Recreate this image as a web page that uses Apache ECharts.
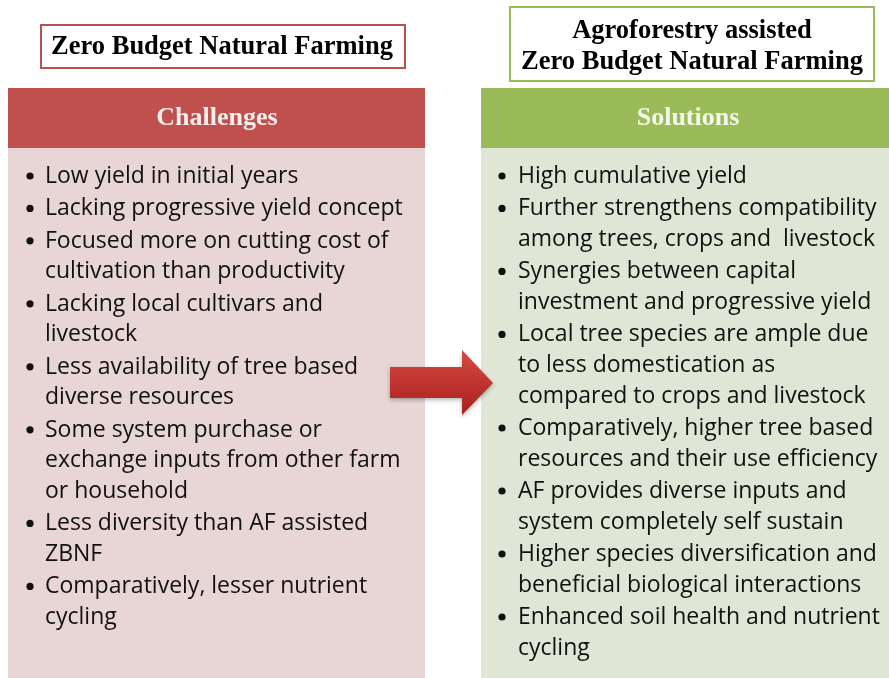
<!DOCTYPE html>
<html>
<head>
<meta charset="utf-8">
<script src="https://cdn.jsdelivr.net/npm/echarts@6/dist/echarts.min.js"></script>
<style>
  html, body { margin: 0; padding: 0; background: #fff; }
  #chart { width: 889px; height: 678px; }
</style>
</head>
<body>
<div id="chart"></div>
<script>
// texts of the diagram
const leftTitle = 'Zero Budget Natural Farming'
const rightTitle = ['Agroforestry assisted', 'Zero Budget Natural Farming']
const leftHeader = 'Challenges'
const rightHeader = 'Solutions'

const challenges = [
  ['Low yield in initial years'],
  ['Lacking progressive yield concept'],
  ['Focused more on cutting cost of', 'cultivation than productivity'],
  ['Lacking local cultivars and', 'livestock'],
  ['Less availability of tree based', 'diverse resources'],
  ['Some system purchase or', 'exchange inputs from other farm', 'or household'],
  ['Less diversity than AF assisted', 'ZBNF'],
  ['Comparatively, lesser nutrient', 'cycling']
]

const solutions = [
  ['High cumulative yield'],
  ['Further strengthens compatibility', 'among trees, crops and  livestock'],
  ['Synergies between capital', 'investment and progressive yield'],
  ['Local tree species are ample due', 'to less domestication as', 'compared to crops and livestock'],
  ['Comparatively, higher tree based', 'resources and their use efficiency'],
  ['AF provides diverse inputs and', 'system completely self sustain'],
  ['Higher species diversification and', 'beneficial biological interactions'],
  ['Enhanced soil health and nutrient', 'cycling']
]

const chart = echarts.init(document.getElementById('chart'))

const bodyFont = '"Open Sans", Lato, sans-serif'
const titleFont = '"Liberation Serif", "DejaVu Serif", serif'
const LINE = 30.6
const GAP = 1.8

function bulletList(items, xBullet, xText, yStart) {
  const out = []
  let y = yStart
  items.forEach(lines => {
    out.push({
      type: 'circle',
      shape: { cx: xBullet, cy: y + 1, r: 3.6 },
      style: { fill: '#111' }
    })
    out.push({
      type: 'text',
      style: {
        text: lines.join('\n'), x: xText, y: y - LINE / 2 + 1.5,
        font: '23px ' + bodyFont, fill: '#111', lineHeight: LINE, verticalAlign: 'top'
      }
    })
    y += lines.length * LINE + GAP
  })
  return out
}

const elements = [
  // left title box
  { type: 'rect', shape: { x: 41, y: 25, width: 364, height: 43 },
    style: { fill: '#fff', stroke: '#b9514e', lineWidth: 2 } },
  { type: 'text', style: { text: leftTitle, x: 222, y: 47, align: 'center', verticalAlign: 'middle',
    font: 'bold 26.5px ' + titleFont, fill: '#000' } },
  // right title box
  { type: 'rect', shape: { x: 510, y: 7, width: 364, height: 74 },
    style: { fill: '#fff', stroke: '#9bbb59', lineWidth: 2 } },
  { type: 'text', style: { text: rightTitle.join('\n'), x: 692, y: 47, align: 'center', verticalAlign: 'middle',
    font: 'bold 26.5px ' + titleFont, fill: '#000', lineHeight: 31 } },
  // left panel
  { type: 'rect', shape: { x: 8, y: 148, width: 417, height: 530 }, style: { fill: '#e8d5d5' } },
  { type: 'rect', shape: { x: 8, y: 88, width: 417, height: 60 }, style: { fill: '#c0504d' } },
  { type: 'text', style: { text: leftHeader, x: 217, y: 118, align: 'center', verticalAlign: 'middle',
    font: 'bold 26px ' + titleFont, fill: '#f7eeee' } },
  // right panel
  { type: 'rect', shape: { x: 481, y: 148, width: 408, height: 530 }, style: { fill: '#dfe6d5' } },
  { type: 'rect', shape: { x: 481, y: 88, width: 408, height: 60 }, style: { fill: '#9bbb59' } },
  { type: 'text', style: { text: rightHeader, x: 688, y: 118, align: 'center', verticalAlign: 'middle',
    font: 'bold 26px ' + titleFont, fill: '#f4f8ec' } },
  // arrow
  { type: 'polygon',
    shape: { points: [[390, 367], [462, 367], [462, 350], [493, 383], [462, 415], [462, 398], [390, 398]] },
    style: {
      fill: new echarts.graphic.LinearGradient(0, 0, 0, 1, [
        { offset: 0, color: '#d64a44' },
        { offset: 1, color: '#a8201c' }
      ]),
      shadowBlur: 4, shadowColor: 'rgba(0,0,0,0.3)', shadowOffsetY: 2
    } }
]

const option = {
  animation: false,
  graphic: {
    elements: elements
      .concat(bulletList(challenges, 30, 45, 175))
      .concat(bulletList(solutions, 502, 518, 175))
  }
}

chart.setOption(option)
</script>
</body>
</html>
